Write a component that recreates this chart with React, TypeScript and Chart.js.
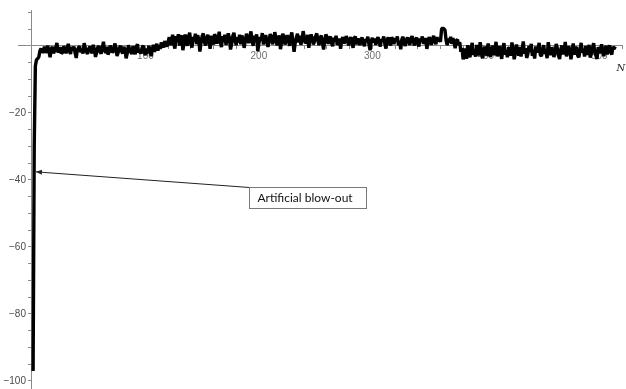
import React, { useEffect, useRef } from "react";
import { Chart, registerables } from "chart.js";

Chart.register(...registerables);

// Series: x = 1..514
const segStart: number[] = [
  -97, -30, -6, -4.2, -3.8, -3.4, -1.5, -0.8, -2.0, -1.6,
  -0.2, -2.1, -1.0, 0.0, -1.7, -3.4, -0.9, -0.3, -2.2, -1.5,
  -0.6, 0.9, -2.0, -1.3, -0.4, -2.3, -2.0, -0.1, -1.0, -2.2,
  -0.8, 0.6, -1.6, -2.4, -0.3, -1.4, -0.2, -2.1, -3.6, -1.2,
  -0.6, -0.1, -1.9, -1.1, -2.3, 0.8, -0.5, -1.7, -2.4, -0.9,
  -0.2, -1.5, -2.2, 0.3, -1.0, -3.3, -2.0, -0.4, -0.1, -1.7,
  -2.3, -0.6, 1.2, -1.3, -2.1, -0.3, -2.6, -1.8, 0.1, -0.8,
  -2.0, -1.4, 0.7, -0.5, -3.0, -2.0, -0.7, 0.0, -1.6, -2.3,
  -0.3, -1.1, -3.7, -2.2, 0.2, -0.9, -1.8, -2.4, -0.1, -1.2,
  -2.5, -0.4, 0.5, -2.0, -1.5, -2.3, -0.6, 0.1, -1.9, -2.8,
  -0.8, -2.2, 0.0, -1.3, -3.1, -1.0, 0.3, -1.8, -0.3, 0.6,
  -1.4, 0.2, -0.9, 1.0, 0.2, -0.5, 1.4, 0.6, -0.2, 1.1,
];

const segMiddle: number[] = [
  2.6, 0.2, 1.8, 3.3, 0.6, -0.8, 2.9, 1.2, 3.5, 0.1,
  2.2, 3.1, -1.3, 0.8, 3.4, 1.5, 0.0, 2.8, 3.9, 1.0,
  -0.5, 2.7, 1.4, 3.6, 0.5, 3.2, 1.9, -1.7, 1.0, 2.9,
  3.7, 1.1, 0.1, 2.3, 3.3, 1.4, -0.9, 3.0, 1.7, 0.4,
  3.5, 2.6, 0.7, 1.9, 4.2, 1.2, -0.4, 2.9, 1.1, 3.3,
  0.3, 2.1, 3.7, 2.4, -1.1, 0.6, 2.9, 3.9, 1.5, 0.2,
  2.6, 1.0, 3.3, 0.5, 3.1, 1.8, -0.6, 1.4, 3.6, 2.3,
  0.8, 2.7, 4.3, 1.3, 0.0, 3.0, 1.8, 3.4, -1.6, 0.7,
  2.6, 1.6, 3.8, 0.4, 2.2, 3.2, 1.2, -0.3, 1.8, 3.5,
  2.8, 0.5, 1.4, 4.1, 2.4, 0.1, 2.0, 3.1, -1.0, 1.1,
  3.6, 2.8, 0.4, 1.5, 3.2, 1.9, 0.0, 2.7, 4.0, 1.3,
  -1.8, 0.9, 2.4, 3.6, 1.0, 3.0, 0.3, 1.7, 4.4, 2.5,
  0.7, 1.4, 3.3, -0.6, 2.1, 3.4, 2.4, 0.4, 1.3, 2.8,
  3.7, 1.6, 0.2, 2.2, 3.1, 1.0, -1.1, 1.5, 3.4, 2.6,
  0.6, 1.9, 2.8, 0.8, -0.1, 2.4, 1.5, 3.0, 0.3, 1.2,
  2.2, -0.9, 1.8, 2.6, 0.7, 1.3, 2.9, 1.9, 0.1, 1.6,
  2.6, 1.0, -0.6, 2.3, 2.8, 0.5, 1.5, 2.2, 0.2, 1.8,
  2.5, 0.8, -0.1, 2.0, 1.5, 2.7, 0.4, -1.3, 1.3, 2.4,
  1.0, 2.2, 0.3, 1.9, 2.6, 1.1, -0.2, 2.0, 1.5, 2.8,
  0.6, -0.8, 1.7, 2.5, 1.0, 0.1, 2.6, 1.8, 0.5, 2.3,
  1.3, 2.8, 0.2, 1.5, -1.0, 2.0, 2.7, 1.0, 0.0, 1.8,
  2.5, 1.2, 0.3, 2.2, 2.9, 1.4, 0.1, 1.8, 2.5, 0.8,
  -0.2, 2.2, 1.3, 2.8, 0.6, 1.6, 2.3, -0.9, 1.0, 2.6,
  1.8, 0.3, 2.0, 3.0, 1.3, 0.5, 2.6, 1.4, 2.1, 1.2,
  5.0, 5.3, 5.1, 4.7, 1.6, 0.2, 2.2, 1.0, 2.7, 0.6,
  2.3, 0.9, -0.7, 1.6, 1.9, 0.3, 1.1, -1.8, -0.6, -4.0,
];

const segEnd: number[] = [
  -3.0, -0.8, -3.9, 0.2, -2.3, -3.4, -0.6, 0.9, -2.7, -1.5,
  -3.2, 0.3, -1.9, -2.8, 1.1, -1.1, -3.7, -2.3, -0.2, -1.5,
  -3.0, 0.7, -0.9, -3.3, -2.0, 0.1, -2.8, -1.2, 1.2, -3.1,
  -1.7, 0.0, -2.5, -3.9, -0.6, 0.8, -2.6, -1.4, -3.4, -0.4,
  -1.3, -2.9, 1.0, -0.9, -4.0, -2.1, 0.4, -1.6, -2.9, -0.3,
  -3.2, -1.1, 1.3, -2.3, -0.7, -3.6, -2.5, 0.0, -1.8, 0.6,
  -3.0, -1.2, -3.8, -0.2, -2.0, -0.8, 0.9, -2.7, -3.1, -1.3,
  0.2, -2.4, -1.6, -3.7, 1.1, -1.0, -2.8, -0.4, -1.5, -3.3,
  -2.1, 0.6, -0.7, -2.9, -3.9, -1.2, 0.1, -2.5, -1.6, 1.2,
  -3.1, -2.2, -0.1, -1.1, -4.0, -1.8, 0.7, -2.6, -0.9, -0.3,
  -3.0, -3.4, -1.3, 0.9, -2.0, -0.9, -3.2, 0.0, -2.7, -1.5,
  0.3, -3.5, -2.3, -0.6, 0.8, -1.8, -2.9, -3.9, -0.4, -1.2,
  -2.2, 0.5, -1.5, -3.1, -0.8, 0.0, -2.5, -1.1, 0.2, -1.8,
  -2.6, -0.3, -1.0, -0.2,
];

const seriesValues: number[] = [...segStart, ...segMiddle, ...segEnd];

const xMajorTicks: number[] = [100, 200, 300, 400, 500];
const xMinorStep = 20;
const yMajorTicks: number[] = [-20, -40, -60, -80, -100];
const yMinorStep = 5;

const xRange = { min: -12.3, max: 520 };
const yRange = { min: -102.4, max: 10.7 };
const yLabelColumnAt = -5.3; // x value where the y tick labels end

const annotationText = "Artificial blow-out";
const arrowTip = { x: 3.5, y: -37.6 };
const boxCorner = { x: 191, y: -42.1 };
const axisLabel = "N";
const axisLabelAt = { x: 519, y: -6.6 };

const fmtMinus = (v: number) => (v < 0 ? "\u2212" + Math.abs(v) : String(v));

const noPad = (s: any) => {
  s.paddingLeft = 0;
  s.paddingRight = 0;
  s.paddingTop = 0;
  s.paddingBottom = 0;
};

const annotationPlugin = {
  id: "blowout",
  afterDatasetsDraw(chart: any) {
    const { ctx, scales } = chart;
    const xs = scales.x;
    const ys = scales.y;
    const tx = xs.getPixelForValue(arrowTip.x);
    const ty = ys.getPixelForValue(arrowTip.y);
    const bx = Math.round(xs.getPixelForValue(boxCorner.x)) + 0.5;
    const by = Math.round(ys.getPixelForValue(boxCorner.y)) + 0.5;
    ctx.save();
    ctx.font = "12px Lato, 'Open Sans', sans-serif";
    const tw = ctx.measureText(annotationText).width;
    const bw = Math.round(tw + 22);
    const bh = 21;
    ctx.strokeStyle = "#222";
    ctx.lineWidth = 1;
    ctx.beginPath();
    ctx.moveTo(bx, by);
    ctx.lineTo(tx, ty);
    ctx.stroke();
    const ang = Math.atan2(by - ty, bx - tx);
    const L = 6, W = 2.5;
    ctx.fillStyle = "#222";
    ctx.beginPath();
    ctx.moveTo(tx, ty);
    ctx.lineTo(tx + L * Math.cos(ang) - W * Math.sin(ang), ty + L * Math.sin(ang) + W * Math.cos(ang));
    ctx.lineTo(tx + L * Math.cos(ang) + W * Math.sin(ang), ty + L * Math.sin(ang) - W * Math.cos(ang));
    ctx.closePath();
    ctx.fill();
    ctx.fillStyle = "#fff";
    ctx.fillRect(bx, by, bw, bh);
    ctx.strokeStyle = "#7a7a7a";
    ctx.strokeRect(bx, by, bw, bh);
    ctx.fillStyle = "#111";
    ctx.textBaseline = "middle";
    ctx.textAlign = "left";
    ctx.fillText(annotationText, bx + 8, by + bh / 2 + 0.5);
    ctx.font = "italic 10px 'DejaVu Serif', serif";
    ctx.fillStyle = "#222";
    ctx.textAlign = "center";
    ctx.fillText(axisLabel, xs.getPixelForValue(axisLabelAt.x), ys.getPixelForValue(axisLabelAt.y));
    ctx.restore();
  },
};

const axisGray = "#8a8a8a";
const labelFont = { size: 10, family: "'Liberation Sans', Arial, sans-serif" };

export default function App() {
  const ref = useRef<HTMLCanvasElement | null>(null);
  useEffect(() => {
    if (!ref.current) return;
    const pts = seriesValues.map((v, i) => ({ x: i + 1, y: v }));
    const xTickBuilder = (s: any) => {
      const t: { value: number }[] = [];
      for (let v = 0; v <= 520; v += xMinorStep) t.push({ value: v });
      s.ticks = t;
    };
    const yTickBuilder = (s: any) => {
      const t: { value: number }[] = [];
      for (let v = -100; v <= 10; v += yMinorStep) t.push({ value: v });
      s.ticks = t;
    };
    const chart = new Chart(ref.current, {
      type: "line",
      data: {
        datasets: [
          {
            data: pts,
            xAxisID: "x",
            yAxisID: "y",
            borderColor: "#000",
            borderWidth: 3.4,
            borderJoinStyle: "bevel",
            borderCapStyle: "butt",
            pointRadius: 0,
            tension: 0,
            fill: false,
          },
        ],
      },
      options: {
        animation: false,
        responsive: false,
        devicePixelRatio: 1,
        parsing: false as any,
        normalized: true,
        layout: { padding: { left: 18, right: 4, top: 10, bottom: 0 } },
        plugins: { legend: { display: false }, tooltip: { enabled: false } },
        scales: {
          x: {
            type: "linear",
            min: xRange.min,
            max: xRange.max,
            position: { y: 0 } as any,
            border: { display: true, color: axisGray, width: 1 },
            grid: { drawOnChartArea: false, drawTicks: true, tickLength: 3, color: axisGray },
            afterBuildTicks: xTickBuilder,
            afterFit: noPad,
            ticks: { display: false, autoSkip: false },
          },
          xl: {
            type: "linear",
            min: xRange.min,
            max: xRange.max,
            position: { y: 0 } as any,
            z: 1,
            border: { display: false },
            grid: { display: false },
            afterBuildTicks: xTickBuilder,
            afterFit: noPad,
            ticks: {
              autoSkip: false,
              maxRotation: 0,
              padding: -4,
              color: "#707070",
              font: labelFont,
              callback: (v: any) => (xMajorTicks.includes(Number(v)) ? String(v) : ""),
            },
          },
          y: {
            type: "linear",
            min: yRange.min,
            max: yRange.max,
            position: { x: 0 } as any,
            border: { display: true, color: axisGray, width: 1 },
            grid: { drawOnChartArea: false, drawTicks: true, tickLength: 3, color: axisGray },
            afterBuildTicks: yTickBuilder,
            afterFit: noPad,
            ticks: { display: false, autoSkip: false },
          },
          yl: {
            type: "linear",
            min: yRange.min,
            max: yRange.max,
            position: { x: yLabelColumnAt } as any,
            border: { display: false },
            grid: { display: false },
            afterBuildTicks: yTickBuilder,
            afterFit: noPad,
            ticks: {
              autoSkip: false,
              padding: 0,
              color: "#4a4a4a",
              font: labelFont,
              callback: (v: any) => (yMajorTicks.includes(Number(v)) ? fmtMinus(Number(v)) : ""),
            },
          },
        },
      },
      plugins: [annotationPlugin],
    });
    return () => chart.destroy();
  }, []);
  return (
    <div style={{ position: "fixed", left: 0, top: 0, width: 626, height: 389, background: "#fff", overflow: "hidden" }}>
      <canvas ref={ref} width={626} height={389} style={{ display: "block", width: 626, height: 389 }} />
    </div>
  );
}
